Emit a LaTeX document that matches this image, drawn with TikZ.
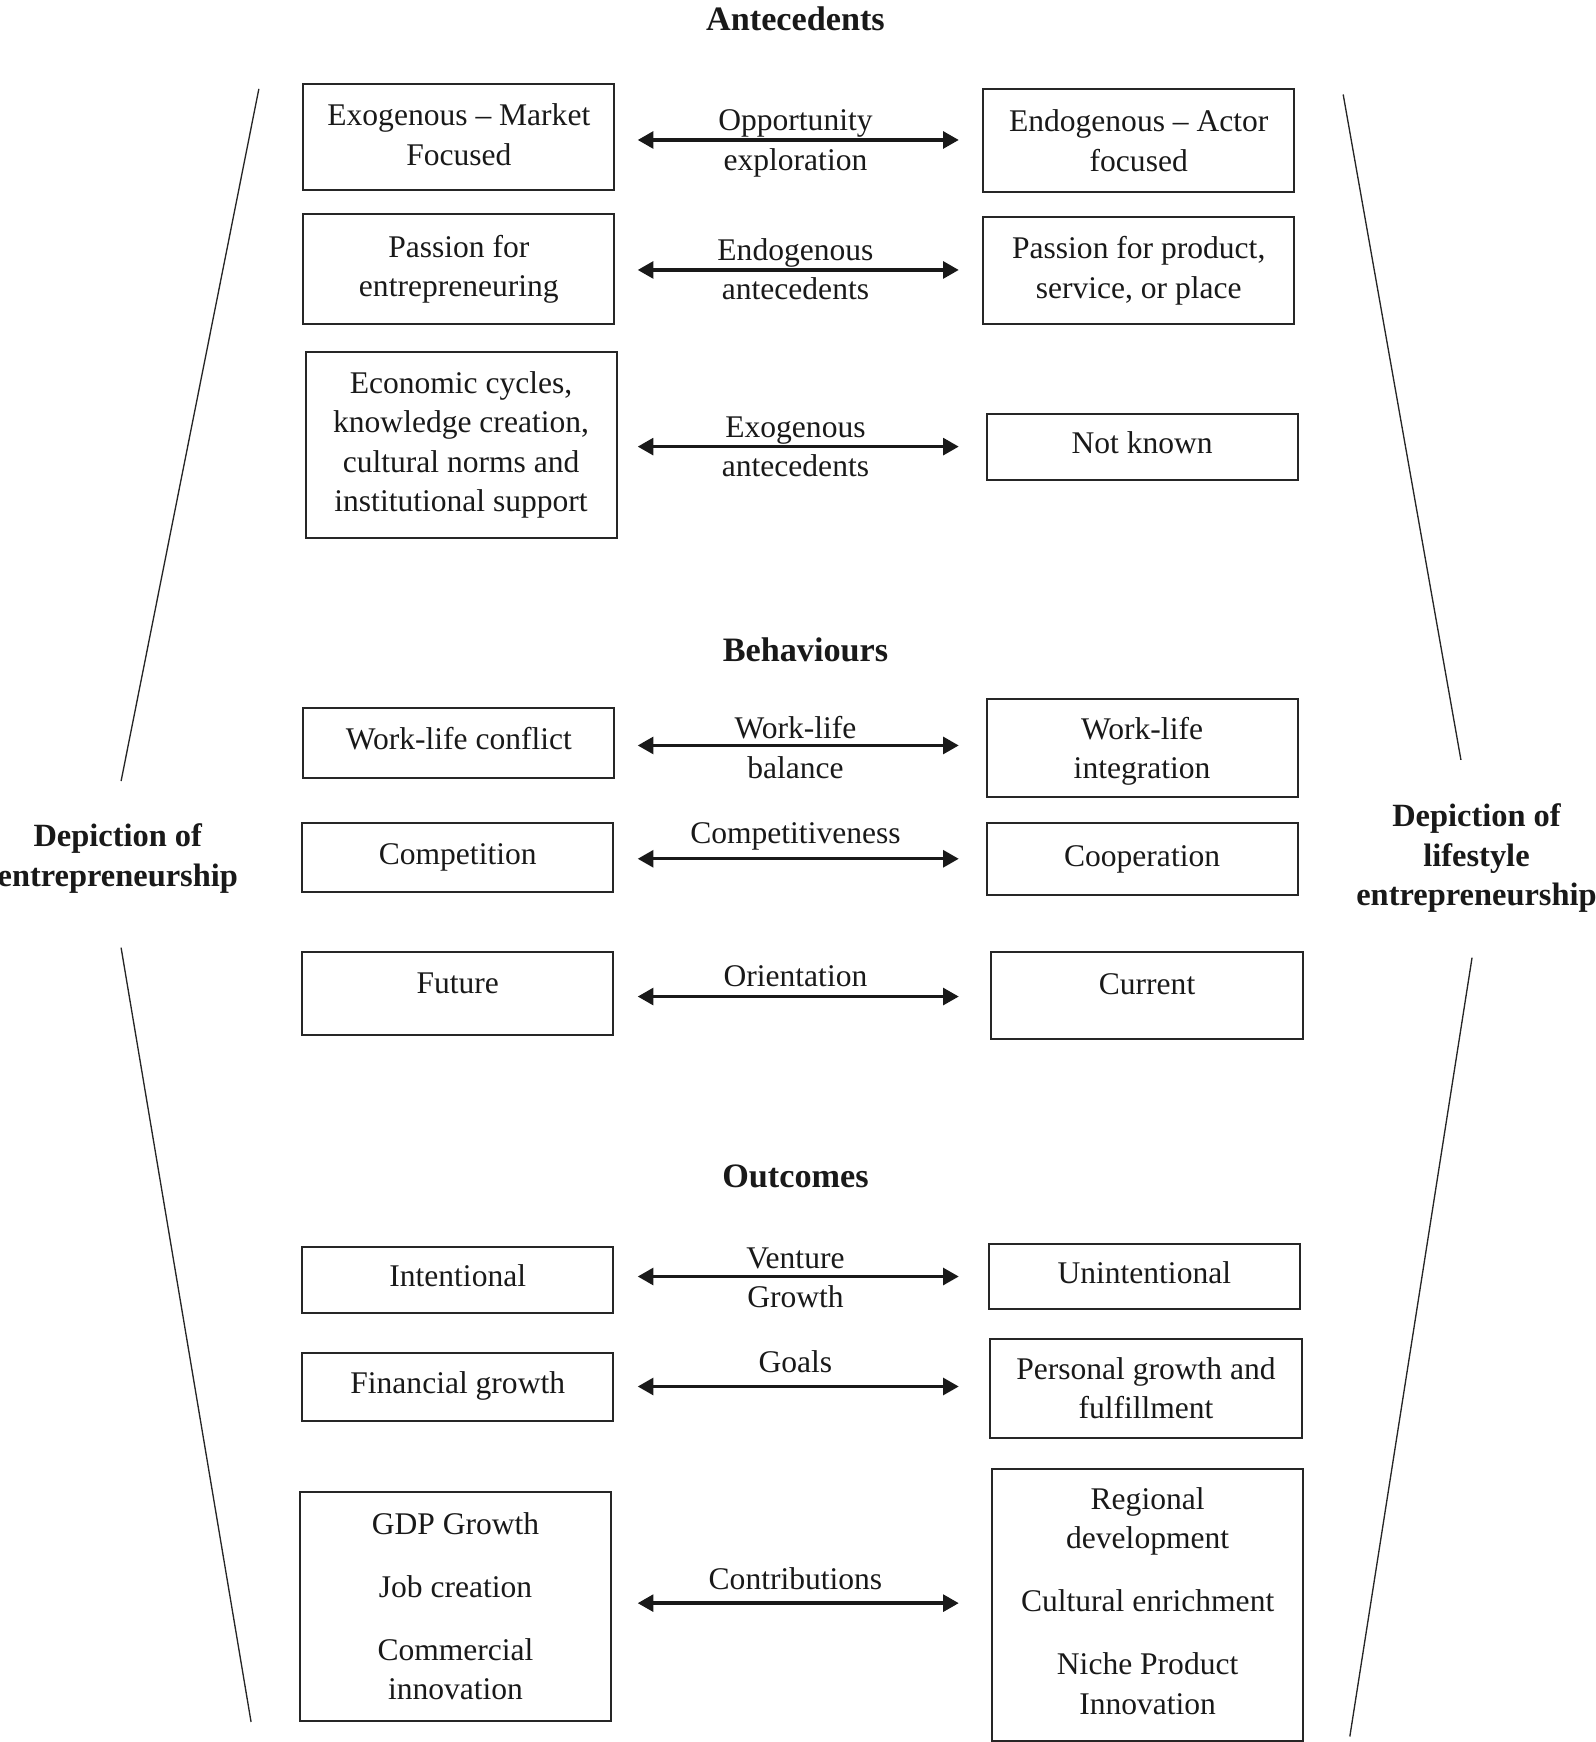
\documentclass[tikz,border=0pt]{standalone}
\usepackage{fontspec}
\setmainfont{Liberation Serif}
\usetikzlibrary{arrows.meta}
\begin{document}
\begin{tikzpicture}[x=0.5pt,y=-0.5pt,
  every node/.style={font=\fontsize{14.2}{17.8}\selectfont, text=black!90},
  box/.style={draw=black!85, line width=0.9pt, align=center, inner sep=0pt},
  one/.style={text height=10pt, text depth=4pt},
  lbl/.style={align=center, inner sep=0pt},
  head/.style={font=\fontsize{15.4}{17.8}\selectfont\bfseries, align=center, inner sep=0pt},
  sidelbl/.style={font=\fontsize{14.6}{17.8}\selectfont\bfseries, align=center, inner sep=0pt},
  dbl/.style={{Triangle[length=7pt,width=7.5pt]}-{Triangle[length=7pt,width=7.5pt]}, line width=1.5pt, black!90},
  side/.style={line width=0.6pt, black!85}]
\useasboundingbox (0,0) rectangle (1436,1568);

% headings
\node[head] (hA) at (716,17) {Antecedents};
\node[head] (hB) at (725,585) {Behaviours};
\node[head] (hC) at (716,1059) {Outcomes};
\node[sidelbl] (sL) at (106,773) {Depiction of\\entrepreneurship};
\node[sidelbl] (sR) at (1329,772.5) {Depiction of\\lifestyle\\entrepreneurship};

% side lines
\draw[side] (233,80) -- (109,703);
\draw[side] (109,853) -- (226,1550);
\draw[side] (1209,85) -- (1315,684);
\draw[side] (1325,862) -- (1215,1563);

% Antecedents
\node[box, minimum width=140pt, minimum height=47.5pt, text depth=2.5pt] (L1) at (413,123.5) {Exogenous -- Market\\Focused};
\node[box, minimum width=140pt, minimum height=46.5pt] (R1) at (1025,126.5) {Endogenous -- Actor\\focused};
\node[box, minimum width=140pt, minimum height=49.5pt] (L2) at (413,242.5) {Passion for\\entrepreneuring};
\node[box, minimum width=140pt, minimum height=48.5pt] (R2) at (1025,243.5) {Passion for product,\\service, or place};
\node[box, minimum width=140pt, minimum height=83.5pt] (L3) at (415,400.5) {Economic cycles,\\knowledge creation,\\cultural norms and\\institutional support};
\node[box, one, minimum width=140pt, minimum height=29.5pt] (R3) at (1028,402.5) {Not known};

% Behaviours
\node[box, one, minimum width=140pt, minimum height=31.5pt] (L4) at (413,668.5) {Work-life conflict};
\node[box, minimum width=140pt, minimum height=44pt, text depth=0pt] (R4) at (1028,673) {Work-life\\integration};
\node[box, one, minimum width=140pt, minimum height=31pt] (L5) at (412,772) {Competition};
\node[box, one, minimum width=140pt, minimum height=32.5pt] (R5) at (1028,773.5) {Cooperation};
\node[box, minimum width=140pt, minimum height=37.5pt, text height=10pt, text depth=10pt] (L6) at (412,894.5) {Future};
\node[box, minimum width=140.5pt, minimum height=39pt, text height=10pt, text depth=11pt] (R6) at (1032.5,896) {Current};

% Outcomes
\node[box, one, minimum width=140pt, minimum height=30pt] (L7) at (412,1152) {Intentional};
\node[box, one, minimum width=140pt, minimum height=29pt] (R7) at (1030,1149) {Unintentional};
\node[box, one, minimum width=140pt, minimum height=30.5pt] (L8) at (412,1248.5) {Financial growth};
\node[box, minimum width=140.5pt, minimum height=44.5pt] (R8) at (1031.5,1249.5) {Personal growth and\\fulfillment};
\node[box, minimum width=140pt, minimum height=103pt] (L9) at (410,1446) {GDP Growth\\[10.5pt]Job creation\\[10.5pt]Commercial\\innovation};
\node[box, minimum width=140pt, minimum height=122.5pt, text depth=3.5pt] (R9) at (1033,1444.5) {Regional\\development\\[10.5pt]Cultural enrichment\\[10.5pt]Niche Product\\Innovation};

% arrow end points
\foreach \n/\y in {1/126,2/243,3/402,4/671,5/773,6/897,7/1149,8/1248,9/1443}{
  \coordinate (a\n l) at (574,\y);
  \coordinate (a\n r) at (863,\y);
  \draw[dbl] (a\n l) -- (a\n r);
}

% arrow labels
\node[lbl] (t1) at (716,129) {Opportunity\\exploration};
\node[lbl] (t2) at (716,242.5) {Endogenous\\antecedents};
\node[lbl] (t3) at (716,402) {Exogenous\\antecedents};
\node[lbl] (t4) at (716,673) {Work-life\\balance};
\node[lbl] (t5) at (716,753) {Competitiveness};
\node[lbl] (t6) at (716,879) {Orientation};
\node[lbl] (t7) at (716,1150) {Venture\\Growth};
\node[lbl] (t8) at (716,1226) {Goals};
\node[lbl] (t9) at (716,1421) {Contributions};
\end{tikzpicture}
\end{document}
